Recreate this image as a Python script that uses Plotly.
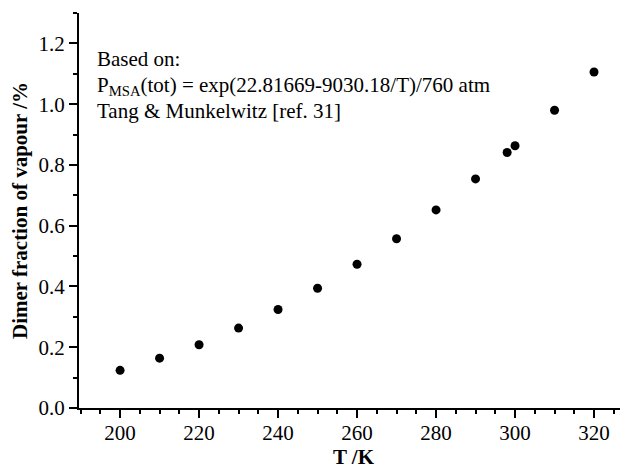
import plotly.graph_objects as go

temperature_K = [200, 210, 220, 230, 240, 250, 260, 270, 280, 290, 298, 300, 310, 320]
dimer_fraction_pct = [0.124, 0.164, 0.208, 0.263, 0.324, 0.394, 0.473, 0.557, 0.652, 0.754, 0.841, 0.863, 0.980, 1.106]

x_tick_vals = [200, 220, 240, 260, 280, 300, 320]
y_tick_vals = [0.0, 0.2, 0.4, 0.6, 0.8, 1.0, 1.2]
y_tick_text = ["0.0", "0.2", "0.4", "0.6", "0.8", "1.0", "1.2"]

note_lines = [
    "Based on:",
    "P<sub>MSA</sub>(tot) = exp(22.81669-9030.18/T)/760 atm",
    "Tang &amp; Munkelwitz [ref. 31]",
]
note_y = [0.884, 0.814, 0.752]

FONT = "Liberation Serif"

fig = go.Figure()
fig.add_trace(go.Scatter(
    x=temperature_K, y=dimer_fraction_pct, mode="markers",
    marker=dict(color="black", size=9, symbol="circle"),
    showlegend=False, cliponaxis=False,
))

axis_common = dict(
    showline=True, linecolor="black", linewidth=2,
    ticks="outside", ticklen=8, tickwidth=2, tickcolor="black",
    showgrid=False, zeroline=False, mirror=False, automargin=False,
    tickfont=dict(family=FONT, size=21, color="black"),
)

fig.update_xaxes(
    range=[189.6, 328.6], tickvals=x_tick_vals, ticklabelstandoff=-3,
    minor=dict(ticks="outside", dtick=5, tick0=200, ticklen=4, tickwidth=2, tickcolor="black", showgrid=False),
    title=dict(text="<b>T /K</b>", font=dict(family=FONT, size=21, color="black"), standoff=6),
    **axis_common,
)
fig.update_yaxes(
    range=[0, 1.3], tickvals=y_tick_vals, ticktext=y_tick_text,
    minor=dict(ticks="outside", dtick=0.1, tick0=0, ticklen=4, tickwidth=2, tickcolor="black", showgrid=False),
    title=dict(text="<b>Dimer fraction of vapour /%</b>", font=dict(family=FONT, size=21, color="black"), standoff=8),
    **axis_common,
)

for line, yy in zip(note_lines, note_y):
    fig.add_annotation(
        xref="paper", yref="paper", x=0.029, y=yy,
        xanchor="left", yanchor="middle", text=line, showarrow=False,
        font=dict(family=FONT, size=21, color="black"),
    )

fig.update_layout(
    width=620, height=461,
    margin=dict(l=71, r=0, t=5, b=61),
    plot_bgcolor="white", paper_bgcolor="white",
)

fig.write_html("out.html")
